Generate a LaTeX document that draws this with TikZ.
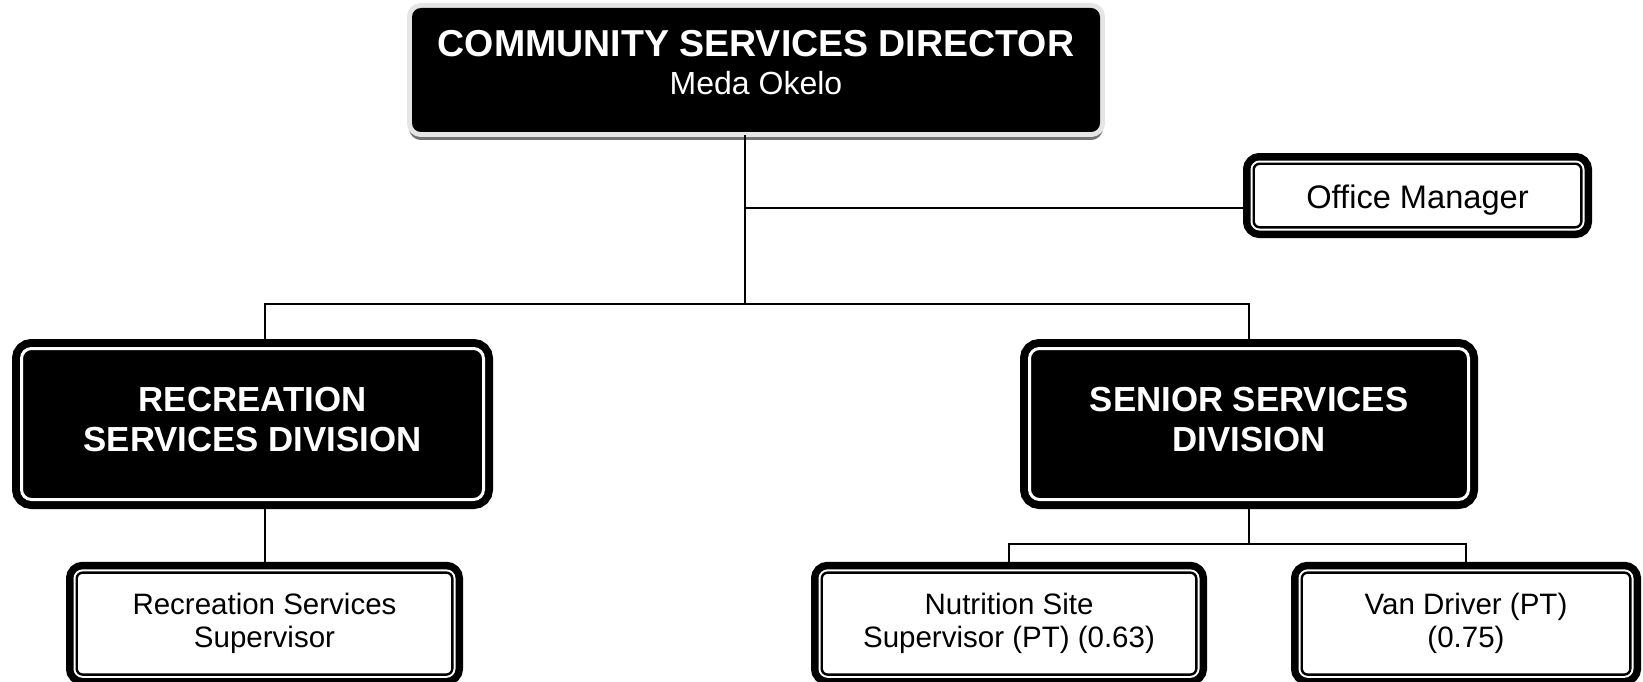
\documentclass[tikz,border=0pt]{standalone}
\usepackage{fontspec}
\setmainfont{Liberation Sans}

\begin{document}
\begin{tikzpicture}[x=1pt,y=-1pt]

      \useasboundingbox (0,0) rectangle (1643,682);

      \begin{scope}[every node/.style={rounded corners=9pt,fill=black,text=white,
          inner sep=0pt,outer sep=3pt,minimum width=688pt,minimum height=124pt,align=center,
          preaction={draw=black!55,line width=6pt,transform canvas={yshift=-5pt}},
          preaction={draw=black!10,line width=10pt},
          font=\fontsize{37.5}{38}\selectfont\bfseries}]
        \node (dir) at (756,70) {COMMUNITY SERVICES DIRECTOR\\
          {\mdseries\fontsize{32}{38}\selectfont Meda Okelo\rule[-15pt]{0pt}{15pt}}};
      \end{scope}

      \begin{scope}[every node/.style={rounded corners=10pt,fill=black,draw=white,line width=3pt,
          preaction={draw=black,line width=19pt},outer sep=9.5pt,inner sep=0pt,
          minimum height=151pt,text=white,align=center,
          font=\fontsize{34.8}{40.5}\selectfont\bfseries}]
        \node[minimum width=462pt] (rec)    at (252.5,424)
          {RECREATION\\SERVICES DIVISION\rule[-9pt]{0pt}{9pt}};
        \node[minimum width=439pt] (senior) at (1249,424)
          {SENIOR SERVICES\\DIVISION\rule[-9pt]{0pt}{9pt}};
      \end{scope}

      \begin{scope}[every node/.style={rounded corners=6pt,fill=white,draw=black,line width=2.4pt,
          preaction={draw=black,line width=21.4pt},preaction={draw=white,line width=6.4pt},
          outer sep=10.7pt,inner sep=0pt,align=center,
          font=\fontsize{29.5}{33}\selectfont}]
        \node[minimum width=327.6pt,minimum height=63.6pt,font=\fontsize{32.6}{36}\selectfont]
          (office) at (1417.5,195.5) {\rule{0pt}{32pt}Office Manager};
        \node[minimum width=375.6pt,minimum height=102pt] (recsup) at (264.5,623.6)
          {Recreation Services\\Supervisor};
        \node[minimum width=374.6pt,minimum height=102pt] (nutri)  at (1009,623.6)
          {Nutrition Site\\Supervisor (PT) (0.63)};
        \node[minimum width=328.6pt,minimum height=102pt] (van)    at (1466,623.6)
          {Van Driver (PT)\\(0.75)};
      \end{scope}

      \coordinate (om)   at (745,208);
      \coordinate (bus)  at (745,304);
      \coordinate (busl) at (265,304);
      \coordinate (busr) at (1249,304);
      \coordinate (sj)   at (1249,544);

      \begin{scope}[line width=1.6pt]
        \draw (dir.south -| bus) -- (bus);
        \draw (om) -- (om -| office.west);
        \draw (rec.north -| busl) -- (busl) -- (busr) -- (senior.north);
        \draw (rec.south -| busl) -- (recsup.north -| busl);
        \draw (senior.south) -- (sj);
        \draw (nutri.north) |- (sj) -| (van.north);
      \end{scope}

    \end{tikzpicture}
\end{document}
